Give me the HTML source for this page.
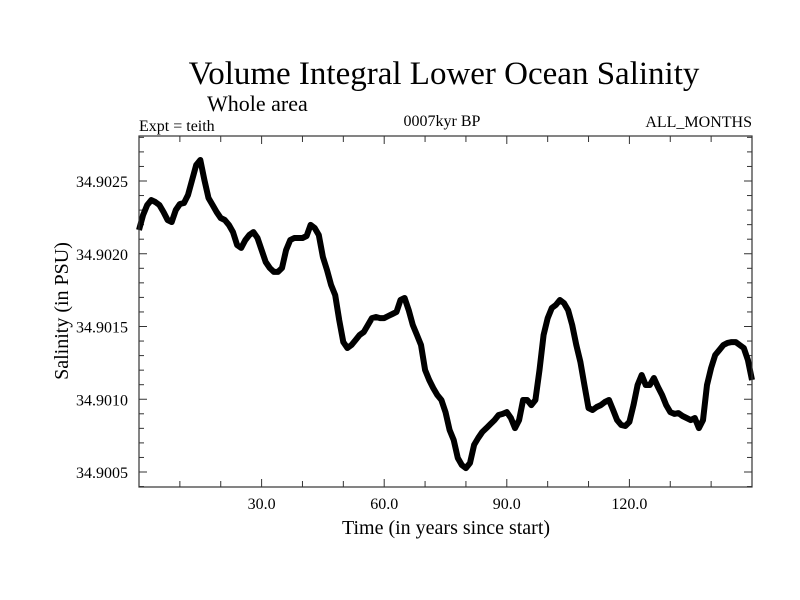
<!DOCTYPE html>
<html><head><meta charset="utf-8"><style>
body{margin:0;background:#fff}
svg{display:block;font-family:"Liberation Serif",serif}
</style></head><body>
<svg id="chart" width="800" height="600" viewBox="0 0 800 600">
<rect width="800" height="600" fill="#fff"/>
<text x="444" y="84" font-size="33" text-anchor="middle">Volume Integral Lower Ocean Salinity</text>
<text x="207" y="111" font-size="22">Whole area</text>
<text x="139" y="131" font-size="16">Expt = teith</text>
<text x="442" y="126" font-size="16" text-anchor="middle">0007kyr BP</text>
<text x="752" y="127" font-size="16" text-anchor="end">ALL_MONTHS</text>
<text x="446" y="534" font-size="20" text-anchor="middle">Time (in years since start)</text>
<text transform="translate(68,311) rotate(-90)" font-size="20" text-anchor="middle">Salinity (in PSU)</text>
<g id="ticks"></g>
<path id="series" fill="none" stroke="#000" stroke-width="6" stroke-linejoin="round"/>
<rect x="139" y="136" width="613" height="351" fill="none" stroke="#333" stroke-width="1.2"/>
</svg>
<script>
const years = [];
for (let i = 0; i <= 150; i++) years.push(i);
const salinity = [
34.902163,34.902266,34.902335,34.902369,34.902356,34.902335,34.902287,34.902232,34.902218,34.902301,
34.902342,34.902349,34.902404,34.902507,34.90261,34.902644,34.902507,34.902383,34.902335,34.902287,
34.902246,34.902232,34.902198,34.902149,34.90206,34.90204,34.902094,34.902129,34.902149,34.902108,
34.902026,34.901943,34.901902,34.901875,34.901875,34.901902,34.902026,34.902094,34.902108,34.902108,
34.902108,34.902122,34.902198,34.902177,34.902129,34.901978,34.901888,34.901785,34.901716,34.901545,
34.901393,34.901352,34.901373,34.901407,34.901442,34.901462,34.90151,34.901558,34.901565,34.901558,
34.901558,34.901572,34.901586,34.9016,34.901682,34.901696,34.901613,34.90151,34.901442,34.901373,
34.901201,34.901132,34.901077,34.901029,34.900995,34.900912,34.900789,34.90072,34.900596,34.900548,
34.900527,34.900562,34.900686,34.900734,34.900775,34.900802,34.90083,34.900857,34.900892,34.900899,
34.900912,34.900871,34.900802,34.900857,34.900995,34.900995,34.90096,34.900995,34.901201,34.901442,
34.901558,34.901627,34.901648,34.901682,34.901661,34.901613,34.90151,34.901373,34.901256,34.901098,
34.90094,34.900926,34.900947,34.90096,34.900981,34.900995,34.900926,34.900857,34.900823,34.900816,
34.900844,34.90096,34.901098,34.901167,34.901098,34.901098,34.901146,34.901084,34.901029,34.90096,
34.900912,34.900899,34.900905,34.900885,34.900871,34.900857,34.900871,34.900802,34.900857,34.901098,
34.901215,34.901304,34.901338,34.901373,34.901387,34.901393,34.901393,34.901373,34.901352,34.90127,
34.901132];
const xMajor = [30, 60, 90, 120];
const xLabels = ["30.0", "60.0", "90.0", "120.0"];
const yMajor = [34.9005, 34.9010, 34.9015, 34.9020, 34.9025];
const yLabels = ["34.9005", "34.9010", "34.9015", "34.9020", "34.9025"];

const L = 139, R = 752, T = 136, B = 487;
const X0 = 0, X1 = 150;
const Y0 = 34.9005 - 15 / 72.75 * 0.0005, Y1 = 34.9025 + 45 / 72.75 * 0.0005;
const sx = v => L + (v - X0) / (X1 - X0) * (R - L);
const sy = v => B - (v - Y0) / (Y1 - Y0) * (B - T);
const NS = "http://www.w3.org/2000/svg";
const g = document.getElementById("ticks");
function line(x1, y1, x2, y2, name) {
  const l = document.createElementNS(NS, "line");
  l.setAttribute("x1", x1); l.setAttribute("y1", y1); l.setAttribute("x2", x2); l.setAttribute("y2", y2);
  l.setAttribute("stroke", "#333"); l.setAttribute("stroke-width", "1");
  
  
  g.appendChild(l);
}
function text(x, y, s, anchor, name) {
  const t = document.createElementNS(NS, "text");
  t.setAttribute("x", x); t.setAttribute("y", y); t.setAttribute("font-size", "16");
  t.setAttribute("text-anchor", anchor); t.textContent = s;
  
  
  g.appendChild(t);
}
for (let v = 10; v < 150; v += 10) {
  const x = sx(v), len = (v % 30 === 0) ? 8 : 6;
  line(x, B, x, B - len, "x-tick");
  line(x, T, x, T + len, "x-tick-top");
}
for (let k = 4; k <= 28; k++) {
  const v = 34.9000 + k * 0.0001;
  if (v < Y0 || v > Y1) continue;
  const y = sy(v), len = (k % 5 === 0) ? 8 : 5;
  line(L, y, L + len, y, "y-tick");
  line(R, y, R - len, y, "y-tick-right");
}
xMajor.forEach((v, i) => text(sx(v), 509, xLabels[i], "middle", "x-tick-label"));
yMajor.forEach((v, i) => text(128, sy(v) + 6, yLabels[i], "end", "y-tick-label"));
let d = "";
years.forEach((yr, i) => { d += (i ? "L" : "M") + sx(yr).toFixed(1) + "," + sy(salinity[i]).toFixed(1); });
document.getElementById("series").setAttribute("d", d);
</script>
</body></html>
